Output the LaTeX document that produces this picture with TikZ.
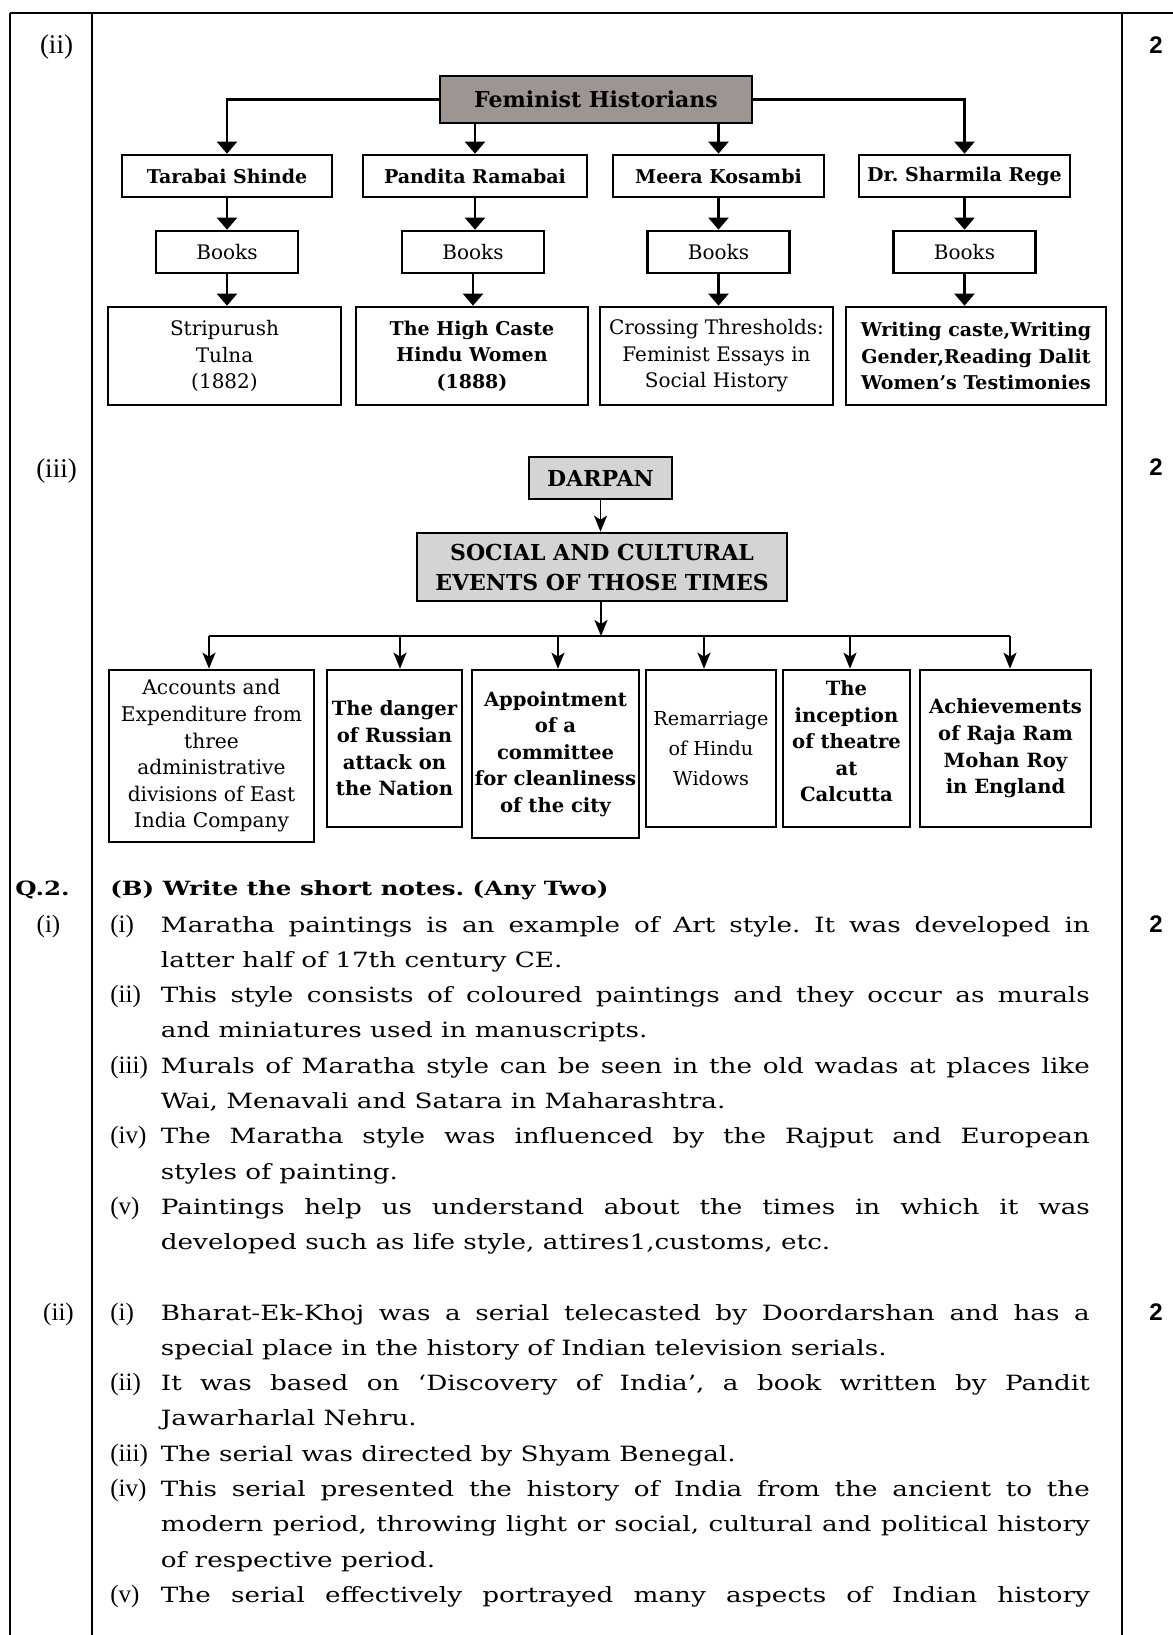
\documentclass[tikz,border=0pt]{standalone}
\usepackage{fontspec}
\setmainfont{DejaVu Serif}
\newfontfamily\bodyfont{DejaVu Serif}[FakeStretch=1.25]
\newfontfamily\numfont{Liberation Serif}
\newfontfamily\scorefont{Liberation Sans}
\usetikzlibrary{arrows.meta}
\definecolor{femgray}{HTML}{9C9592}
\definecolor{dargray}{HTML}{D4D4D4}
\frenchspacing

\begin{document}
\begin{tikzpicture}[x=0.5pt, y=-0.5pt,
    border/.style={line width=1.1pt},
    cell/.style={draw, line width=1.35pt, inner sep=1pt, align=center},
    topbox/.style={cell, fill=femgray, font=\bfseries\fontsize{11}{13}\selectfont, minimum width=156pt, minimum height=23.5pt},
    namebox/.style={cell, font=\bfseries\fontsize{9.5}{11}\selectfont, minimum height=21pt},
    bookbox/.style={cell, font=\fontsize{10}{12}\selectfont, minimum width=71pt, minimum height=21pt},
    titlebox/.style={cell, font=\fontsize{10}{13.3}\selectfont, minimum height=49pt},
    headbox/.style={cell, fill=dargray, font=\bfseries\fontsize{11}{15}\selectfont},
    eventbox/.style={cell, font=\fontsize{9.5}{13.3}\selectfont},
    boldevent/.style={eventbox, font=\bfseries\fontsize{9.8}{13.3}\selectfont},
    conn/.style={line width=1.1pt, -{Triangle[width=10pt,length=6pt]}},
    sarrow/.style={line width=1pt, -{Stealth[width=6.5pt,length=8pt,inset=2pt]}},
    busline/.style={line width=1.1pt},
    notetext/.style={anchor=base west, inner sep=0pt, text width=464.5pt, align=justify, font=\bodyfont\fontsize{10.5}{17.65}\selectfont},
    notelabel/.style={anchor=base west, inner sep=0pt, font=\numfont\fontsize{12.5}{14}\selectfont},
    colnum/.style={anchor=base, inner sep=0pt, font=\numfont\fontsize{13.5}{15}\selectfont},
    score/.style={anchor=base, inner sep=0pt, font=\scorefont\bfseries\fontsize{12}{14}\selectfont}]
    \useasboundingbox (0,0) rectangle (1173,1635);

    % Page frame
    \draw[border] (10,13) -- (1173,13);
    \draw[border] (10,13) -- (10,1635);
    \draw[border] (92,13) -- (92,1635);
    \draw[border] (1122,13) -- (1122,1635);

    % (ii) Feminist historians
    \node[colnum] (qii) at (56.5,53) {(ii)};
    \node[score] (sii) at (1156,53) {2};
    \node[topbox] (fem) at (596,99.5) {Feminist Historians};

    \node[namebox, minimum width=105pt] (tara) at (227,176) {Tarabai Shinde};
    \node[namebox, minimum width=112pt] (pand) at (475,176) {Pandita Ramabai};
    \node[namebox, minimum width=105.5pt] (meera) at (718.5,176) {Meera Kosambi};
    \node[namebox, minimum width=105.5pt] (rege) at (964.5,176) {Dr. Sharmila Rege};

    \node[bookbox] (bk1) at (227,252) {Books};
    \node[bookbox] (bk2) at (473,252) {Books};
    \node[bookbox] (bk3) at (718.5,252) {Books};
    \node[bookbox] (bk4) at (964.5,252) {Books};

    \node[titlebox, minimum width=116.5pt] (ttl1) at (224.5,356) {Stripurush\\Tulna\\(1882)};
    \node[titlebox, minimum width=116pt, font=\bfseries\fontsize{9.5}{13.3}\selectfont] (ttl2) at (472,356) {The High Caste\\Hindu Women\\(1888)};
    \node[titlebox, minimum width=116.5pt] (ttl3) at (716.5,356) {Crossing Thresholds:\\Feminist Essays in\\Social History};
    \node[titlebox, minimum width=130pt, font=\bfseries\fontsize{9.5}{13.3}\selectfont] (ttl4) at (976,356) {Writing caste,Writing\\Gender,Reading Dalit\\Women's Testimonies};

    \draw[conn] (fem.west) -| (tara.north);
    \draw[conn] (fem.east) -| (rege.north);
    \draw[conn] (fem.south -| pand.north) -- (pand.north);
    \draw[conn] (fem.south -| meera.north) -- (meera.north);
    \foreach \n in {1,2,3,4}{
        \draw[conn] (bk\n.south) -- (bk\n.south |- ttl\n.north);
    }
    \draw[conn] (tara.south) -- (tara.south |- bk1.north);
    \draw[conn] (pand.south) -- (pand.south |- bk2.north);
    \draw[conn] (meera.south) -- (meera.south |- bk3.north);
    \draw[conn] (rege.south) -- (rege.south |- bk4.north);

    % (iii) Darpan
    \node[colnum] (qiii) at (56.5,477) {(iii)};
    \node[score] (siii) at (1156,475) {2};
    \node[headbox, minimum width=71.5pt, minimum height=21pt] (darpan) at (600.5,478) {DARPAN};
    \node[headbox, minimum width=185pt, minimum height=34pt] (social) at (602,567) {SOCIAL AND CULTURAL\\EVENTS OF THOSE TIMES};

    \node[eventbox, minimum width=102.5pt, minimum height=86pt, font=\fontsize{10.1}{13.3}\selectfont] (acc) at (211.5,756) {Accounts and\\Expenditure from\\three\\administrative\\divisions of East\\India Company};
    \node[boldevent, minimum width=67.5pt, minimum height=78.5pt] (dang) at (394.5,748.5) {The danger\\of Russian\\attack on\\the Nation};
    \node[boldevent, minimum width=83.5pt, minimum height=84pt] (appt) at (555.5,754) {Appointment\\of a\\committee\\for cleanliness\\of the city};
    \node[eventbox, minimum width=65pt, minimum height=78.5pt, font=\fontsize{9.6}{14.8}\selectfont] (remar) at (711,748.5) {Remarriage\\of Hindu\\Widows};
    \node[boldevent, minimum width=63.5pt, minimum height=78.5pt] (incep) at (846.5,748.5) {The\\inception\\of theatre\\at\\Calcutta\\[-6pt]};
    \node[boldevent, minimum width=85.5pt, minimum height=78.5pt] (achv) at (1005.5,748.5) {Achievements\\of Raja Ram\\Mohan Roy\\in England};

    \coordinate (busL) at (209,636);
    \coordinate (busR) at (1010,636);
    \coordinate (busM) at (601,636);
    \draw[sarrow, line width=0.8pt] (darpan.south) -- (darpan.south |- social.north);
    \draw[sarrow] (social.south -| busM) -- (busM);
    \draw[busline] (busL) -- (busR);
    \foreach \xx/\nn [count=\i] in {209/acc,400/dang,558/appt,704/remar,850/incep,1010/achv}{
        \coordinate (t\i) at (\xx,636);
        \draw[sarrow] (t\i) -- (t\i |- \nn.north);
    }

    % Q.2 (B) short notes
    \node[anchor=base west, inner sep=0pt, font=\bodyfont\bfseries\fontsize{9.8}{12}\selectfont] (qtwo) at (15,895) {Q.2.};
    \node[anchor=base west, inner sep=0pt, font=\bodyfont\bfseries\fontsize{9.8}{12}\selectfont] (qhead) at (110,895) {(B) Write the short notes. (Any Two)};

    % first note
    \node[colnum, font=\numfont\fontsize{12.5}{14}\selectfont] (ni) at (48.5,932) {(i)};
    \node[score] (si) at (1156,932) {2};
    \node[notelabel] (a1l) at (110,932) {(i)};
    \node[notetext] (a1) at (160.5,932) {Maratha paintings is an example of Art style. It was developed in\linebreak latter half of 17th century CE.};
    \node[notelabel] (a2l) at (110,1002.6) {(ii)};
    \node[notetext] (a2) at (160.5,1002.6) {This style consists of coloured paintings and they occur as murals\linebreak and miniatures used in manuscripts.};
    \node[notelabel] (a3l) at (110,1073.2) {(iii)};
    \node[notetext] (a3) at (160.5,1073.2) {Murals of Maratha style can be seen in the old wadas at places like\linebreak Wai, Menavali and Satara in Maharashtra.};
    \node[notelabel] (a4l) at (110,1143.8) {(iv)};
    \node[notetext] (a4) at (160.5,1143.8) {The Maratha style was influenced by the Rajput and European\linebreak styles of painting.};
    \node[notelabel] (a5l) at (110,1214.4) {(v)};
    \node[notetext] (a5) at (160.5,1214.4) {Paintings help us understand about the times in which it was\linebreak developed such as life style, attires1,customs, etc.};

    % second note
    \node[colnum, font=\numfont\fontsize{12.5}{14}\selectfont] (nii) at (58.5,1320) {(ii)};
    \node[score] (sii2) at (1156,1320) {2};
    \node[notelabel] (b1l) at (110,1320) {(i)};
    \node[notetext] (b1) at (160.5,1320) {Bharat-Ek-Khoj was a serial telecasted by Doordarshan and has a\linebreak special place in the history of Indian television serials.};
    \node[notelabel] (b2l) at (110,1390.6) {(ii)};
    \node[notetext] (b2) at (160.5,1390.6) {It was based on ‘Discovery of India’, a book written by Pandit\linebreak Jawarharlal Nehru.};
    \node[notelabel] (b3l) at (110,1461.2) {(iii)};
    \node[notetext] (b3) at (160.5,1461.2) {The serial was directed by Shyam Benegal.};
    \node[notelabel] (b4l) at (110,1496.5) {(iv)};
    \node[notetext] (b4) at (160.5,1496.5) {This serial presented the history of India from the ancient to the\linebreak modern period, throwing light or social, cultural and political history\linebreak of respective period.};
    \node[notelabel] (b5l) at (110,1602.4) {(v)};
    \node[notetext] (b5) at (160.5,1602.4) {\makebox[\linewidth][s]{The serial effectively portrayed many aspects of Indian history}};
\end{tikzpicture}
\end{document}
